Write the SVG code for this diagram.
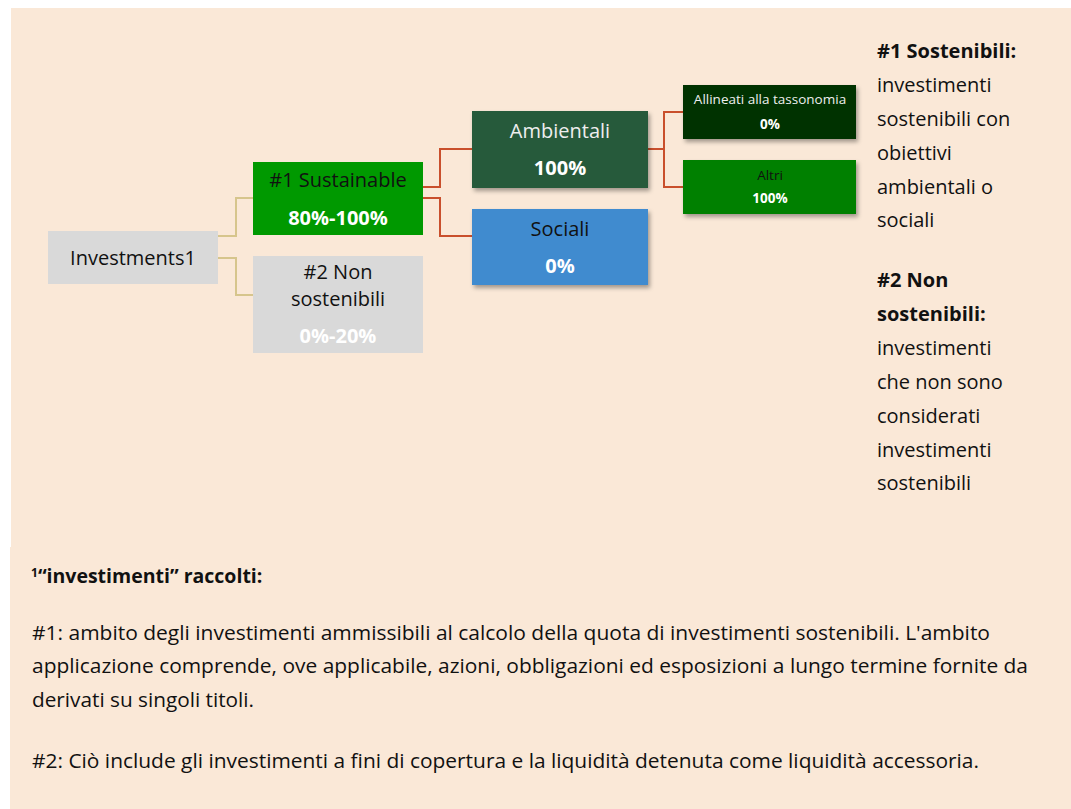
<svg xmlns="http://www.w3.org/2000/svg" width="1071" height="809" viewBox="0 0 1071 809">
<style>
text{font-family:"Open Sans","Liberation Sans",sans-serif;}
.t20{font-size:20px;}
.b20{font-size:20px;font-weight:bold;fill:#fff;}
.s12{font-size:13.5px;}
.sb12{font-size:13.5px;font-weight:bold;fill:#fff;}
.side{font-size:20px;fill:#111;}
.foot{font-size:20px;fill:#111;}
.c1{fill:none;stroke:#D6C58C;stroke-width:2;}
.c2{fill:none;stroke:#C94F2C;stroke-width:2;}
</style>
<defs>
<filter id="sh" x="-10%" y="-10%" width="125%" height="140%">
<feDropShadow dx="2" dy="3" stdDeviation="2" flood-color="#000" flood-opacity="0.35"/>
</filter>
</defs>
<rect x="0" y="0" width="1071" height="809" fill="#fff"/>
<rect x="11" y="8" width="1060" height="801" fill="#FAE8D7"/>
<rect x="10" y="547" width="1061" height="262" fill="#FAE8D7"/>

<g id="connectors">
<polyline class="c1" points="218,236 236,236 236,198 253,198"/>
<polyline class="c1" points="218,258 236,258 236,295 253,295"/>
<polyline class="c2" points="423,187 440,187 440,149 472,149"/>
<polyline class="c2" points="423,198 440,198 440,236 472,236"/>
<polyline class="c2" points="648,149 664,149 664,112 683,112"/>
<polyline class="c2" points="664,149 664,187 683,187"/>
</g>

<g id="investments">
<rect x="48" y="231" width="170" height="53" fill="#D9D9D9"/>
<text class="t20" x="133" y="265" text-anchor="middle" fill="#111">Investments1</text>
</g>

<g id="sustainable">
<rect x="253" y="162" width="170" height="73" fill="#009900"/>
<text class="t20" x="338" y="187" text-anchor="middle" fill="#111">#1 Sustainable</text>
<text class="b20" x="338" y="225" text-anchor="middle">80%-100%</text>
</g>

<g id="non-sostenibili">
<rect x="253" y="256" width="170" height="97" fill="#D9D9D9"/>
<text class="t20" x="338" y="279" text-anchor="middle" fill="#111">#2 Non</text>
<text class="t20" x="338" y="306" text-anchor="middle" fill="#111">sostenibili</text>
<text class="b20" x="338" y="343" text-anchor="middle">0%-20%</text>
</g>

<g id="ambientali">
<rect x="472" y="111" width="176" height="77" fill="#275A3B" filter="url(#sh)"/>
<text class="t20" x="560" y="138" text-anchor="middle" fill="#EEEEEE">Ambientali</text>
<text class="b20" x="560" y="175" text-anchor="middle">100%</text>
</g>

<g id="sociali">
<rect x="472" y="209" width="176" height="76" fill="#3F8BCF" filter="url(#sh)"/>
<text class="t20" x="560" y="236" text-anchor="middle" fill="#111">Sociali</text>
<text class="b20" x="560" y="273" text-anchor="middle">0%</text>
</g>

<g id="allineati">
<rect x="683" y="85" width="173" height="54" fill="#003300" filter="url(#sh)"/>
<text class="s12" x="770" y="104" text-anchor="middle" fill="#EEEEEE">Allineati alla tassonomia</text>
<text class="sb12" x="770" y="129" text-anchor="middle">0%</text>
</g>

<g id="altri">
<rect x="683" y="160" width="173" height="54" fill="#008000" filter="url(#sh)"/>
<text class="s12" x="770" y="180" text-anchor="middle" fill="#111">Altri</text>
<text class="sb12" x="770" y="203" text-anchor="middle">100%</text>
</g>

<g id="legend">
<text class="side" x="877" y="58" font-weight="bold">#1 Sostenibili:</text>
<text class="side" x="877" y="92">investimenti</text>
<text class="side" x="877" y="126">sostenibili con</text>
<text class="side" x="877" y="160">obiettivi</text>
<text class="side" x="877" y="194">ambientali o</text>
<text class="side" x="877" y="227">sociali</text>
<text class="side" x="877" y="287" font-weight="bold">#2 Non</text>
<text class="side" x="877" y="321" font-weight="bold">sostenibili:</text>
<text class="side" x="877" y="355">investimenti</text>
<text class="side" x="877" y="389">che non sono</text>
<text class="side" x="877" y="423">considerati</text>
<text class="side" x="877" y="457">investimenti</text>
<text class="side" x="877" y="490">sostenibili</text>
</g>

<g id="footnote">
<text x="31" y="583" font-weight="bold" font-size="19.5" fill="#111"><tspan font-size="12" dy="-6">1</tspan><tspan dy="6">“investimenti” raccolti:</tspan></text>
<text class="foot" x="32" y="640" textLength="958" lengthAdjust="spacingAndGlyphs">#1: ambito degli investimenti ammissibili al calcolo della quota di investimenti sostenibili. L'ambito</text>
<text class="foot" x="32" y="673" textLength="996" lengthAdjust="spacingAndGlyphs">applicazione comprende, ove applicabile, azioni, obbligazioni ed esposizioni a lungo termine fornite da</text>
<text class="foot" x="32" y="707" textLength="222" lengthAdjust="spacingAndGlyphs">derivati su singoli titoli.</text>
<text class="foot" x="32" y="768" textLength="947" lengthAdjust="spacingAndGlyphs">#2: Ciò include gli investimenti a fini di copertura e la liquidità detenuta come liquidità accessoria.</text>
</g>
</svg>
